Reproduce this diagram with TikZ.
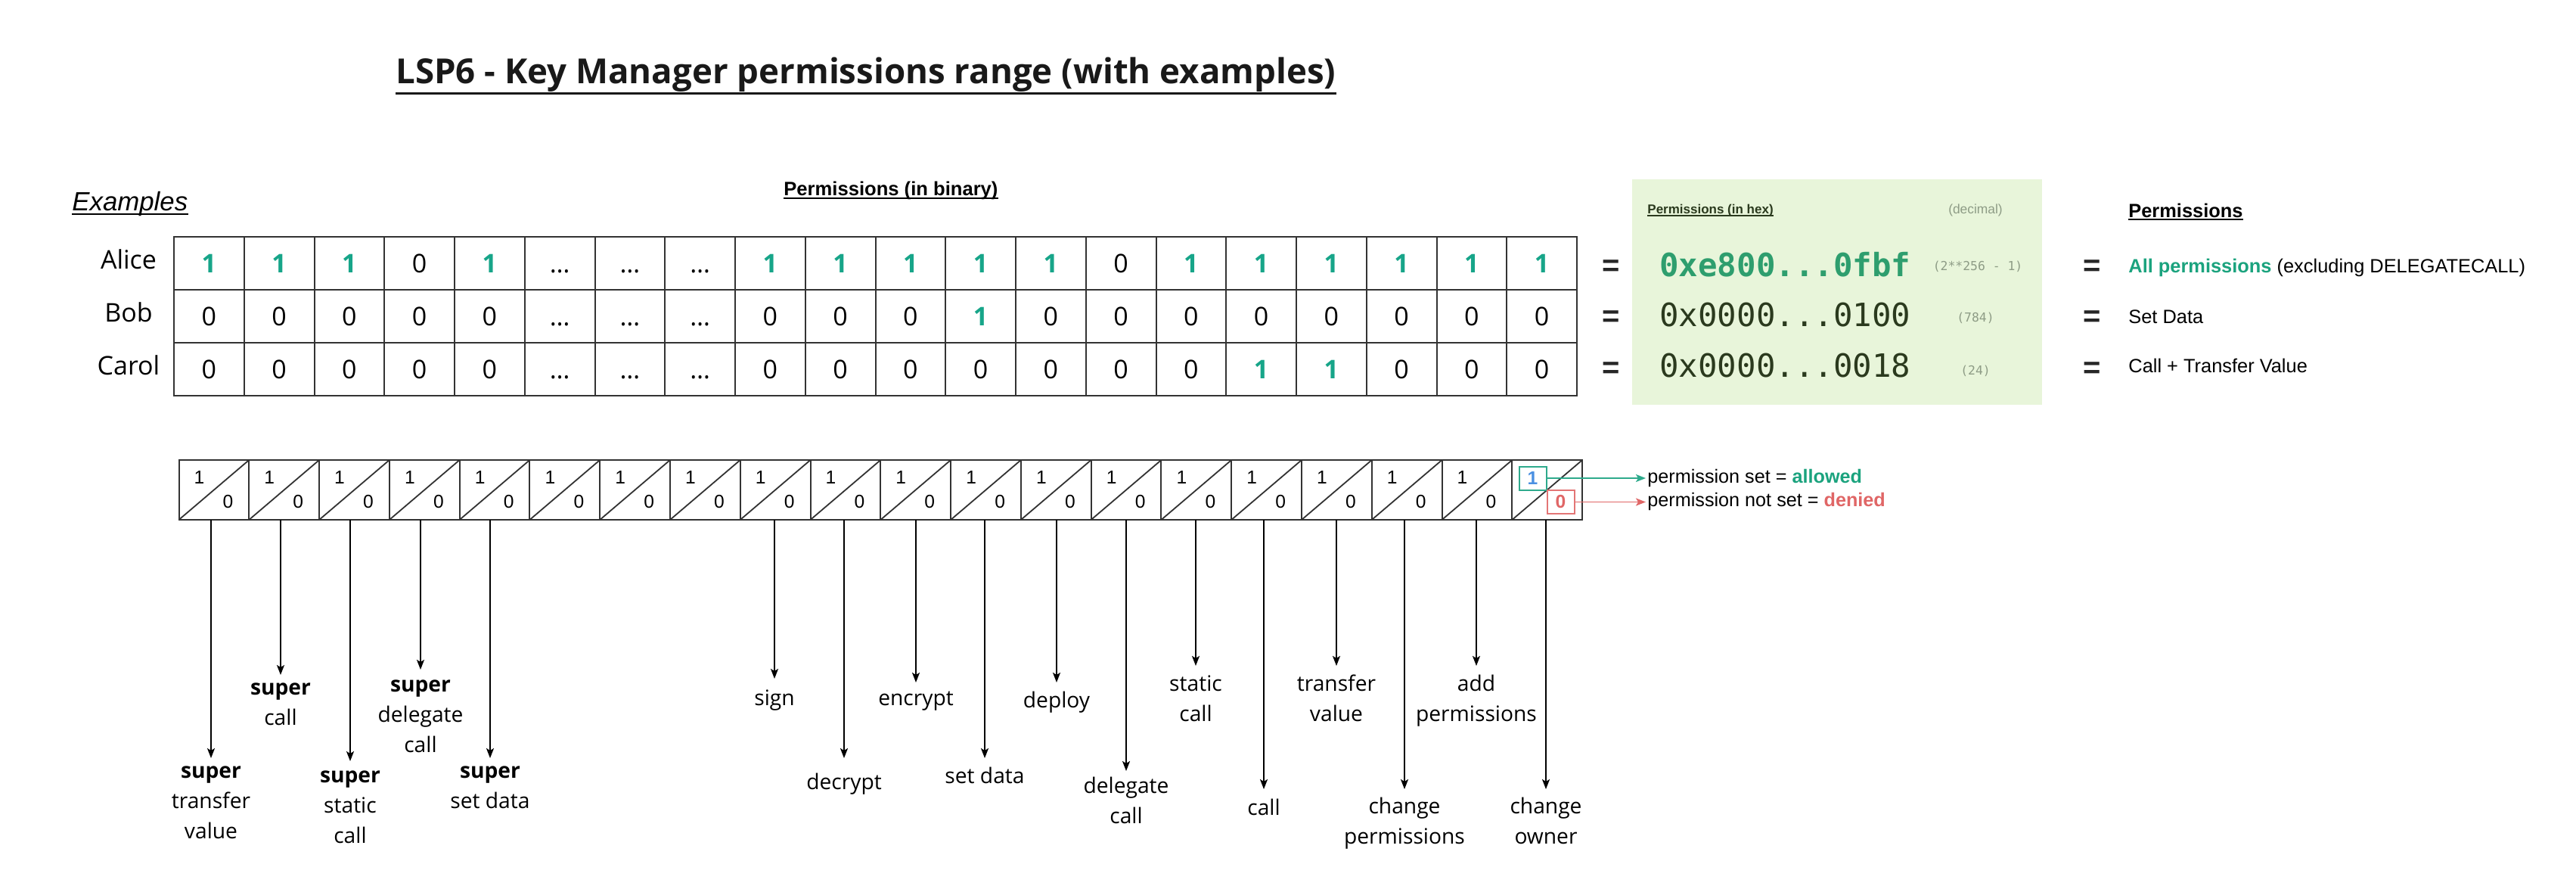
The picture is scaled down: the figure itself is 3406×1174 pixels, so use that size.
\documentclass[tikz,border=0pt]{standalone}
\usepackage{fontspec}
\setmainfont{Liberation Sans}
\newfontfamily\osans{Open Sans}
\newfontfamily\dmono{DejaVu Sans Mono}
\usetikzlibrary{arrows.meta}
\definecolor{onec}{HTML}{17A589}
\definecolor{hexbg}{HTML}{E8F5DA}
\definecolor{hexg}{HTML}{2E9E6E}
\definecolor{hexd}{HTML}{2B3A1E}
\definecolor{decg}{HTML}{8E9C86}
\definecolor{allg}{HTML}{1BA37E}
\definecolor{bluec}{HTML}{4A90E2}
\definecolor{tealc}{HTML}{2EAA8C}
\definecolor{redc}{HTML}{E06666}
\definecolor{gridc}{HTML}{333333}
\newcommand\gone{\textcolor{onec}{\bfseries 1}}
\newcommand\dts{…}
\begin{document}
\begin{tikzpicture}[x=0.5pt,y=-0.5pt,
  cell/.style={draw=gridc,line width=1pt,minimum width=46.375pt,minimum height=35pt,inner sep=0pt,outer sep=0pt,font=\osans\fontsize{17}{20}\selectfont,text height=12.1pt,text depth=0pt},
  bitcell/.style={draw=gridc,line width=1pt,minimum width=46.39pt,minimum height=39.5pt,inner sep=0pt,outer sep=0pt},
  bitnum/.style={anchor=base,inner sep=0pt,font=\fontsize{12.3}{14}\selectfont},
  lab/.style={anchor=north,inner sep=0pt,align=center,font=\osans\fontsize{14.1}{20}\selectfont},
  arr/.style={line width=0.9pt,-{Stealth[length=6.5pt,width=5pt,inset=1.5pt]}},
  txt/.style={anchor=base west,inner sep=0pt},
  eqs/.style={anchor=base,inner sep=0pt,font=\bfseries\fontsize{20}{24}\selectfont,text=black!85},
  nm/.style={anchor=base,inner sep=0pt,font=\osans\fontsize{17}{20}\selectfont}
]
\useasboundingbox[fill=white] (0,0) rectangle (3406,1174);

% title and headers
\node[txt,font=\osans\bfseries\fontsize{22.8}{27}\selectfont,text=black!90] (title) at (523,110) {LSP6 - Key Manager permissions range (with examples)};
\draw[line width=1.5pt,black!90] ([yshift=-6.5pt]title.base west) -- ([yshift=-6.5pt]title.base east);

\node[txt,font=\itshape\fontsize{17.4}{20}\selectfont] (ex) at (95,278) {Examples};
\draw[line width=1pt] ([yshift=-2.5pt]ex.base west) -- ([yshift=-2.5pt]ex.base east);

\node[txt,font=\bfseries\fontsize{12.8}{15}\selectfont] (pb) at (1036,258) {Permissions (in binary)};
\draw[line width=0.9pt] ([yshift=-2pt]pb.base west) -- ([yshift=-2pt]pb.base east);

% names
\node[nm] (alice) at (170,355) {Alice};
\node[nm] (bob) at (170,425) {Bob};
\node[nm] (carol) at (170,495) {Carol};

% binary table
\foreach \rw/\vals in {
  1/{\gone,\gone,\gone,0,\gone,\dts,\dts,\dts,\gone,\gone,\gone,\gone,\gone,0,\gone,\gone,\gone,\gone,\gone,\gone},
  2/{0,0,0,0,0,\dts,\dts,\dts,0,0,0,\gone,0,0,0,0,0,0,0,0},
  3/{0,0,0,0,0,\dts,\dts,\dts,0,0,0,0,0,0,0,\gone,\gone,0,0,0}} {
  \foreach \v [count=\ci] in \vals {
    \node[cell] (c\rw-\ci) at ({230+92.75*(\ci-0.5)},{348+70*(\rw-1)}) {\v};
  }
}

% hex box
\fill[hexbg] (2158,237) rectangle (2700,535);
\node[txt,font=\bfseries\fontsize{8.5}{10}\selectfont,text=hexd] (ph) at (2178,282) {Permissions (in hex)};
\draw[line width=0.7pt,hexd] ([yshift=-1.5pt]ph.base west) -- ([yshift=-1.5pt]ph.base east);
\node[anchor=base,inner sep=0pt,font=\fontsize{8.7}{10}\selectfont,text=decg] (dec) at (2612,282) {(decimal)};

\node[eqs] (eqa1) at (2130,364) {=};
\node[eqs] (eqb1) at (2130,431) {=};
\node[eqs] (eqc1) at (2130,499) {=};
\node[eqs] (eqa2) at (2766,364) {=};
\node[eqs] (eqb2) at (2766,431) {=};
\node[eqs] (eqc2) at (2766,499) {=};

\node[txt,font=\dmono\bfseries\fontsize{21.2}{25}\selectfont,text=hexg] (hexa) at (2194,365) {0xe800...0fbf};
\node[txt,font=\dmono\fontsize{21.2}{25}\selectfont,text=hexd] (hexb) at (2194,431) {0x0000...0100};
\node[txt,font=\dmono\fontsize{21.2}{25}\selectfont,text=hexd] (hexc) at (2194,498) {0x0000...0018};

\node[anchor=base,inner sep=0pt,font=\dmono\fontsize{8.2}{10}\selectfont,text=decg] (deca) at (2615,357) {(2**256 - 1)};
\node[anchor=base,inner sep=0pt,font=\dmono\fontsize{8.2}{10}\selectfont,text=decg] (decb) at (2612,425) {(784)};
\node[anchor=base,inner sep=0pt,font=\dmono\fontsize{8.2}{10}\selectfont,text=decg] (decc) at (2612,495) {(24)};

% permissions meaning
\node[txt,font=\bfseries\fontsize{12.7}{15}\selectfont] (pm) at (2814,287) {Permissions};
\draw[line width=0.9pt] ([yshift=-1.5pt]pm.base west) -- ([yshift=-1.5pt]pm.base east);
\node[txt,font=\fontsize{12.7}{15}\selectfont] (ma) at (2814,360) {\textcolor{allg}{\textbf{All permissions}} (excluding DELEGATECALL)};
\node[txt,font=\fontsize{12.7}{15}\selectfont] (mb) at (2814,427) {Set Data};
\node[txt,font=\fontsize{12.7}{15}\selectfont] (mc) at (2814,492) {Call + Transfer Value};

% bit row
\foreach \ci in {1,...,20} {
  \node[bitcell] (b\ci) at ({236.5+92.78*(\ci-0.5)},647.5) {};
  \draw[gridc,line width=0.9pt] (b\ci.south west) -- (b\ci.north east);
}
\foreach \ci in {1,...,19} {
  \node[bitnum] (one\ci) at ({236.5+92.78*(\ci-1)+27},639) {1};
  \node[bitnum] (zero\ci) at ({236.5+92.78*(\ci-1)+65},671) {0};
}
\node[draw=tealc,line width=1pt,fill=white,minimum width=18pt,minimum height=15.5pt,inner sep=0pt,font=\bfseries\fontsize{12.3}{14}\selectfont,text=bluec] (k1) at (2026.5,632) {1};
\node[draw=redc!90,line width=1pt,fill=white,minimum width=18pt,minimum height=15.5pt,inner sep=0pt,font=\bfseries\fontsize{12.3}{14}\selectfont,text=redc] (k0) at (2063.5,663.5) {0};

\node[txt,font=\fontsize{12.6}{15}\selectfont] (leg1) at (2178,638) {permission set = \textbf{\textcolor{allg}{allowed}}};
\node[txt,font=\fontsize{12.6}{15}\selectfont] (leg0) at (2178,669) {permission not set = \textbf{\textcolor{redc}{denied}}};
\draw[arr,tealc] (k1.east) -- ([xshift=-1pt]k1.east -| leg1.west);
\draw[arr,redc] (k0.east) -- ([xshift=-1pt]k0.east -| leg0.west);

% permission labels
\foreach \ci/\xx/\tp/\bl/\labtxt in {
  1/279/1002/1028/{\textbf{super}\\transfer\\value},
  2/371/892/918/{\textbf{super}\\call},
  3/463/1006/1034/{\textbf{super}\\static\\call},
  4/556/885/914/{\textbf{super}\\delegate\\call},
  5/648/1002/1028/{\textbf{super}\\set data},
  9/1024/897/932/{sign},
  10/1116/1002/1043/{decrypt},
  11/1211/902/932/{encrypt},
  12/1302/1002/1035/{set data},
  13/1397/902/935/{deploy},
  14/1489/1019/1048/{delegate\\call},
  15/1581/880/913/{static\\call},
  16/1671/1043/1077/{call},
  17/1767/880/913/{transfer\\value},
  18/1857/1043/1075/{change\\permissions},
  19/1952/880/913/{add\\permissions},
  20/2044/1043/1075/{change\\owner}} {
  \coordinate (t\ci) at (\xx,\tp);
  \draw[arr] (b\ci.south -| t\ci) -- (t\ci);
  \node[lab] (l\ci) at (\xx,{\bl-28}) {\strut\labtxt};
}
\end{tikzpicture}
\end{document}
